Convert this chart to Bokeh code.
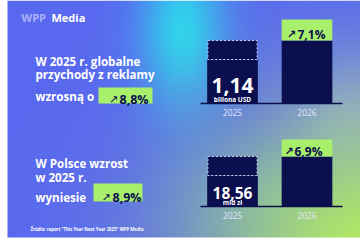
import numpy as np
from bokeh.plotting import figure
from bokeh.models import Range1d
from bokeh.core.properties import value
from bokeh.embed import file_html
from bokeh.resources import INLINE

# ---------------- data ----------------
years = ["2025", "2026"]
global_bar_heights = [44, 63]      # drawn heights (infographic, not to scale)
poland_bar_heights = [31, 50]
global_growth = ["8,8%", "7,1%"]   # growth 2025, growth 2026
poland_growth = ["8,9%", "6,9%"]
global_value = "1,14"
global_unit = "biliona USD"
poland_value = "18,56"
poland_unit = "mld zł"
headline_global = ["W 2025 r. globalne", "przychody z reklamy", "wzrosną o"]
headline_poland = ["W Polsce wzrost", "w 2025 r.", "wyniesie"]
logo_parts = ["WPP", "Media"]
source_note = 'Źródło: raport "This Year Next Year 2025" WPP Media'

# ---------------- style ----------------
W, H = 360, 240
FONT = value("Open Sans")
NAVY = "#0b0f4e"
LIME = "#a8ef6c"
WHITE = "#ffffff"

p = figure(width=W, height=H, x_range=Range1d(0, W), y_range=Range1d(0, H),
           x_axis_type=None, y_axis_type=None, output_backend="svg",
           toolbar_location=None, min_border=0)
p.grid.visible = False
p.outline_line_color = None
p.background_fill_color = "white"
p.border_fill_color = "white"

# ---------------- background gradient (decoration) ----------------
x0, ybot = 7, 237
w, h = W - x0, ybot
X, Y = np.meshgrid(np.arange(w) + x0 + 0.5, np.arange(h) + 0.5)

def blob(cx, cy, sx, sy):
    return np.exp(-(((X - cx) / sx) ** 2 + ((Y - cy) / sy) ** 2) / 2)

col = np.zeros((h, w, 3)) + np.array([88, 104, 240])
def mix(c, a):
    global col
    a = np.clip(a, 0, 1)[..., None]
    col = col * (1 - a) + np.array(c) * a

mix([140, 160, 228], 0.75 * blob(350, 120, 45, 50))
mix([45, 215, 240], 0.95 * blob(182, 30, 30, 55))
mix([120, 180, 205], 0.45 * blob(265, 200, 65, 45))
mix([182, 240, 92], 1.0 * blob(390, 265, 130, 108))

img = np.empty((h, w), dtype=np.uint32)
view = img.view(np.uint8).reshape(h, w, 4)
view[..., 0] = col[..., 0].astype(np.uint8)
view[..., 1] = col[..., 1].astype(np.uint8)
view[..., 2] = col[..., 2].astype(np.uint8)
view[..., 3] = 255
p.image_rgba(image=[img[::-1]], x=x0, y=H - ybot, dw=w, dh=h)

# ---------------- chart ranges ----------------
C0, STEP = 232, 74.5           # pixel centre of first bar, spacing
def ix(px):
    return (px - C0) / STEP
p.extra_x_ranges = {"cx": Range1d(ix(0), ix(W))}
p.extra_y_ranges = {"g": Range1d(-(H - 103), 103), "pl": Range1d(-(H - 206), 206)}

def py(px):  # pixel-from-top to main y
    return H - px

def chart(rn, heights, growth, val, unit, val_size, box_h, val_off, unit_off, arrow_px, pct_px, pct_off):
    idx = [0, 1]
    p.vbar(x=idx, bottom=0, top=heights, width=0.68, fill_color=NAVY, line_color=None,
           x_range_name="cx", y_range_name=rn)
    p.vbar(x=[idx[0]], bottom=[heights[0]], top=[heights[1]], width=0.68 - 0.02,
           fill_color=NAVY, line_color="#c9cdee", line_dash="2 2", line_width=1,
           x_range_name="cx", y_range_name=rn)
    p.vbar(x=[idx[1]], bottom=[heights[1]], top=[heights[1] + box_h], width=0.68,
           fill_color=LIME, line_color=None, x_range_name="cx", y_range_name=rn)
    p.segment(x0=[ix(200)], y0=[0], x1=[ix(342)], y1=[0], line_color=NAVY, line_width=1.5,
              x_range_name="cx", y_range_name=rn)
    p.text(x=idx, y=[-9, -9], text=years, text_align="center", text_baseline="middle",
           text_font=FONT, text_font_size="8.5px", text_color="#e2e5ff",
           x_range_name="cx", y_range_name=rn)
    p.text(x=[0], y=[val_off], text=[val], text_align="center", text_baseline="alphabetic",
           text_font=FONT, text_font_style="bold", text_font_size=val_size, text_color=WHITE,
           x_range_name="cx", y_range_name=rn)
    p.text(x=[0], y=[unit_off], text=[unit], text_align="center", text_baseline="alphabetic",
           text_font=FONT, text_font_style="bold", text_font_size="6.5px", text_color=WHITE,
           x_range_name="cx", y_range_name=rn)
    p.text(x=[ix(arrow_px)], y=[heights[1] + pct_off], text=["↗"], text_align="center",
           text_baseline="alphabetic", text_font=value("DejaVu Sans"), text_font_style="bold",
           text_font_size="11px", text_color=NAVY, x_range_name="cx", y_range_name=rn)
    p.text(x=[ix(pct_px)], y=[heights[1] + pct_off], text=[growth[1]], text_align="left",
           text_baseline="alphabetic", text_font=FONT, text_font_style="bold",
           text_font_size="12px", text_color=NAVY, x_range_name="cx", y_range_name=rn)

chart("g", global_bar_heights, global_growth, global_value, global_unit, "21px", 21, 18, 4.5, 291, 297, 6)
chart("pl", poland_bar_heights, poland_growth, poland_value, poland_unit, "15.5px", 17, 14, 4, 288.5, 294, 5)

# ---------------- left texts ----------------
def headline(lines, baselines, box, arrow_px, pct_px, pct_base, pct):
    p.text(x=[35] * len(lines), y=[py(b) for b in baselines], text=lines, text_align="left",
           text_baseline="alphabetic", text_font=FONT, text_font_style="bold",
           text_font_size="11.6px", text_color=WHITE)
    l, r, t, b = box
    p.quad(left=[l], right=[r], top=[py(t)], bottom=[py(b)], fill_color=LIME, line_color=None)
    p.text(x=[arrow_px], y=[py(pct_base)], text=["↗"], text_align="center",
           text_baseline="alphabetic", text_font=value("DejaVu Sans"),
           text_font_size="11px", text_color=NAVY)
    p.text(x=[pct_px], y=[py(pct_base)], text=[pct], text_align="left",
           text_baseline="alphabetic", text_font=FONT, text_font_style="bold",
           text_font_size="12.5px", text_color=NAVY)

headline(headline_global, [61, 74, 96], (98, 152, 87, 103), 113, 119, 99, global_growth[0])
headline(headline_poland, [163, 177, 197], (93, 142, 183, 201), 105.5, 112, 197, poland_growth[0])

# logo
p.text(x=[21], y=[py(17)], text=[logo_parts[0]], text_align="left", text_baseline="middle",
       text_font=FONT, text_font_style="bold", text_font_size="11px", text_color="#aab3f6")
p.text(x=[51], y=[py(17)], text=[logo_parts[1]], text_align="left", text_baseline="middle",
       text_font=FONT, text_font_style="bold", text_font_size="11px", text_color=WHITE)

# source
p.text(x=[30], y=[py(228)], text=[source_note], text_align="left", text_baseline="middle",
       text_font=FONT, text_font_style="bold", text_font_size="4.3px", text_color=WHITE)

open("out.html", "w").write(file_html(p, INLINE))
